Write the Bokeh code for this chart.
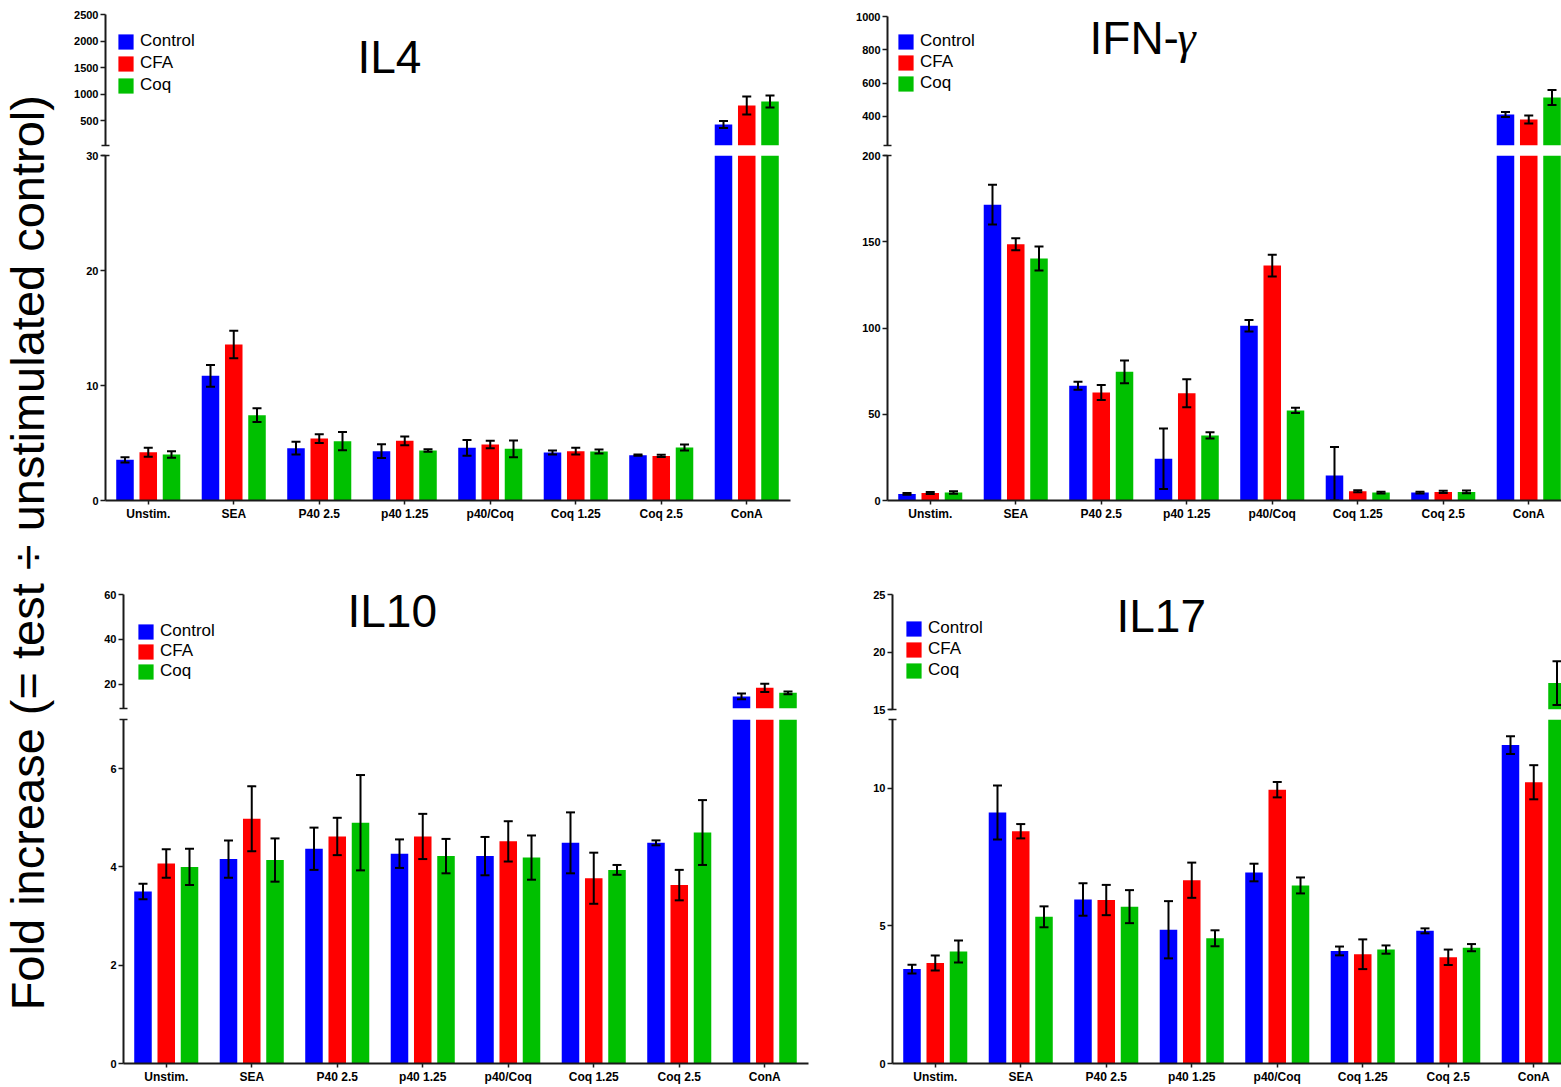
import math
from bokeh.plotting import figure
from bokeh.models import (Range1d, FixedTicker, Label, Legend, LegendItem,
                          ColumnDataSource, CDSView, BooleanFilter)
from bokeh.layouts import row, column
from bokeh.embed import file_html
from bokeh.resources import INLINE

# ---------------- data ----------------
categories = ["Unstim.", "SEA", "P40 2.5", "p40 1.25", "p40/Coq", "Coq 1.25", "Coq 2.5", "ConA"]
series_names = ["Control", "CFA", "Coq"]
series_colors = ["#0000FF", "#FF0000", "#00C000"]

il4_control = [3.54, 10.84, 4.55, 4.29, 4.58, 4.17, 3.94, 426]
il4_control_err = [0.23, 0.95, 0.55, 0.60, 0.68, 0.18, 0.05, 67]
il4_cfa = [4.20, 13.57, 5.39, 5.19, 4.87, 4.29, 3.88, 784]
il4_cfa_err = [0.39, 1.20, 0.38, 0.38, 0.32, 0.30, 0.10, 170]
il4_coq = [4.00, 7.42, 5.16, 4.35, 4.49, 4.26, 4.61, 860]
il4_coq_err = [0.29, 0.60, 0.80, 0.10, 0.72, 0.18, 0.27, 113]

ifn_control = [3.8, 171.5, 66.5, 24.2, 101.3, 14.5, 4.6, 411]
ifn_control_err = [0.5, 11.5, 2.3, 17.5, 3.4, 16.5, 0.5, 15]
ifn_cfa = [4.3, 148.6, 62.6, 62.2, 136.2, 5.4, 5.0, 381]
ifn_cfa_err = [0.6, 3.5, 4.3, 8.1, 6.3, 0.6, 0.6, 24]
ifn_coq = [4.6, 140.3, 74.6, 37.7, 52.2, 4.6, 5.0, 513]
ifn_coq_err = [0.7, 7.0, 6.6, 1.8, 1.5, 0.5, 0.8, 45]

il10_control = [3.50, 4.16, 4.37, 4.27, 4.22, 4.49, 4.49, 14.7]
il10_control_err = [0.16, 0.38, 0.43, 0.29, 0.39, 0.62, 0.05, 1.3]
il10_cfa = [4.07, 4.98, 4.62, 4.62, 4.52, 3.77, 3.63, 18.5]
il10_cfa_err = [0.29, 0.66, 0.38, 0.46, 0.41, 0.52, 0.31, 1.8]
il10_coq = [4.00, 4.14, 4.90, 4.22, 4.19, 3.94, 4.70, 16.3]
il10_coq_err = [0.37, 0.44, 0.97, 0.35, 0.45, 0.10, 0.66, 0.6]

il17_control = [3.43, 9.12, 5.96, 4.86, 6.94, 4.09, 4.82, 11.57]
il17_control_err = [0.16, 0.98, 0.59, 1.04, 0.32, 0.16, 0.09, 0.32]
il17_cfa = [3.65, 8.44, 5.94, 6.66, 9.95, 3.97, 3.86, 10.22]
il17_cfa_err = [0.27, 0.26, 0.55, 0.64, 0.28, 0.54, 0.28, 0.62]
il17_coq = [4.07, 5.33, 5.70, 4.55, 6.47, 4.14, 4.21, 17.3]
il17_coq_err = [0.40, 0.38, 0.60, 0.29, 0.29, 0.15, 0.13, 1.9]

y_label = "Fold increase (= test \u00f7 unstimulated control)"

# ---------------- style ----------------
FONT = "Liberation Sans"
AXIS_COLOR = "#1a1a1a"
BAR_W = 0.205
OFFSETS = [-0.272, 0.0, 0.272]
UNIT = 85.5  # px per category


def style_yaxis(ax, ticks, cap):
    ax.ticker = FixedTicker(ticks=ticks, minor_ticks=[cap])
    ax.major_label_overrides = {t: str(t) for t in ticks}
    ax.axis_line_color = AXIS_COLOR
    ax.axis_line_width = 2
    ax.major_tick_line_color = AXIS_COLOR
    ax.major_tick_line_width = 1.5
    ax.major_tick_out = 5
    ax.major_tick_in = 0
    ax.minor_tick_line_color = AXIS_COLOR
    ax.minor_tick_line_width = 1.5
    ax.minor_tick_out = 4
    ax.minor_tick_in = 4
    ax.major_label_text_font = FONT
    ax.major_label_text_font_size = "11px"
    ax.major_label_text_font_style = "bold"
    ax.major_label_text_color = "black"
    ax.major_label_standoff = 2


def style_xaxis(ax):
    ax.ticker = FixedTicker(ticks=list(range(len(categories))))
    ax.major_label_overrides = {i: c for i, c in enumerate(categories)}
    ax.axis_line_color = AXIS_COLOR
    ax.axis_line_width = 2
    ax.major_tick_line_color = AXIS_COLOR
    ax.major_tick_line_width = 1.5
    ax.major_tick_out = 4
    ax.major_tick_in = 0
    ax.minor_tick_out = 0
    ax.minor_tick_in = 0
    ax.major_label_text_font = FONT
    ax.major_label_text_font_size = "12px"
    ax.major_label_text_font_style = "bold"
    ax.major_label_text_color = "black"
    ax.major_label_standoff = 2


def seg_fig(width, height, left, right, top, bottom, y0, y1, ticks, cap, with_x):
    x_end = -0.5 + (width - left - right) / UNIT
    p = figure(width=width, height=height,
               x_range=Range1d(-0.5, x_end), y_range=Range1d(y0, y1),
               output_backend="svg", toolbar_location=None,
               min_border_left=left, min_border_right=right,
               min_border_top=top, min_border_bottom=bottom,
               x_axis_location="below" if with_x else None)
    p.outline_line_color = None
    p.grid.visible = False
    p.background_fill_color = "white"
    p.border_fill_color = "white"
    style_yaxis(p.yaxis[0], ticks, cap)
    if with_x:
        style_xaxis(p.xaxis[0])
    return p


def add_bars(p, vals_list, errs_list, y0, y1, is_top):
    rends = []
    for vals, errs, color, off in zip(vals_list, errs_list, series_colors, OFFSETS):
        if is_top:
            # in the upper axis segment bars start at the break
            tops = [max(v, y0) for v in vals]
            err_mask = [v > y0 for v in vals]
        else:
            tops = list(vals)
            err_mask = [v <= y1 for v in vals]
        src = ColumnDataSource(dict(
            x=[i + off for i in range(len(vals))],
            top=tops,
            up=[v + e for v, e in zip(vals, errs)],
            lo=[max(v - e, 0) for v, e in zip(vals, errs)],
        ))
        err_view = CDSView(filter=BooleanFilter(err_mask))
        r = p.vbar(x="x", top="top", bottom=y0, width=BAR_W, source=src,
                   fill_color=color, line_color=None)
        rends.append(r)
        p.segment(x0="x", y0="lo", x1="x", y1="up", source=src, view=err_view,
                  line_color="black", line_width=2)
        p.scatter(x="x", y="up", marker="dash", size=9, line_width=2,
                  line_color="black", source=src, view=err_view)
        p.scatter(x="x", y="lo", marker="dash", size=9, line_width=2,
                  line_color="black", source=src, view=err_view)
    return rends


def make_panel(width, spec_top, spec_bot, vals, errs, legend_pos, spacing, titles):
    pt = seg_fig(width, *spec_top, with_x=False)
    pb = seg_fig(width, *spec_bot, with_x=True)
    rends = add_bars(pt, vals, errs, spec_top[5], spec_top[6], True)
    add_bars(pb, vals, errs, spec_bot[5], spec_bot[6], False)
    items = [LegendItem(label=n, renderers=[r]) for n, r in zip(series_names, rends)]
    leg = Legend(items=items, location=legend_pos, orientation="vertical",
                 border_line_color=None, background_fill_alpha=0,
                 padding=0, margin=0, spacing=spacing,
                 glyph_width=19, glyph_height=19, label_height=19,
                 label_standoff=5, label_text_font=FONT,
                 label_text_font_size="17px", label_text_color="black")
    pt.add_layout(leg)
    # title positions: pixels relative to the top-left of the top figure's frame
    height, left, right, top, bottom, y0, y1 = spec_top[:7]
    frame_h = height - top - bottom
    for text, fx, fy, font, style in titles:
        dx = -0.5 + fx / UNIT
        dy = y1 - fy * (y1 - y0) / frame_h
        pt.add_layout(Label(x=dx, y=dy, text=text, text_font=font,
                            text_font_style=style, text_font_size="46px",
                            text_color="black", text_align="left",
                            text_baseline="middle"))
    return column(pt, pb, spacing=0)


LABEL_W = 70
WL = 770
WR = 721

il4 = make_panel(
    WL,
    (148, 35, 50, 14, 3, 30, 2500, [500, 1000, 1500, 2000, 2500], 30),
    (392, 35, 50, 7, 40, 0, 30, [0, 10, 20, 30], 30),
    [il4_control, il4_cfa, il4_coq], [il4_control_err, il4_cfa_err, il4_coq_err],
    (11, 50), 2,
    [("IL4", 357 - 105, 56 - 14, FONT, "normal")])

ifn = make_panel(
    WR,
    (148, 47, 0, 16, 3, 225, 1000, [400, 600, 800, 1000], 225),
    (392, 47, 0, 7, 40, 0, 200, [0, 50, 100, 150, 200], 200),
    [ifn_control, ifn_cfa, ifn_coq], [ifn_control_err, ifn_cfa_err, ifn_coq_err],
    (9, 52), 1,
    [("IFN-", 1089 - 887, 37 - 16, FONT, "normal"),
     ("\u03b3", 1177 - 887, 37 - 16, "Liberation Serif", "italic")])

il10 = make_panel(
    WL,
    (172, 53, 32, 54, 4, 9.33, 60, [20, 40, 60], 9.33),
    (375, 53, 32, 7, 24, 0, 7, [0, 2, 4, 6], 7),
    [il10_control, il10_cfa, il10_coq], [il10_control_err, il10_cfa_err, il10_coq_err],
    (13, 27), 0,
    [("IL10", 347 - 123, 610 - 594, FONT, "normal")])

il17 = make_panel(
    WR,
    (177, 52, 0, 54, 8, 15, 25, [15, 20, 25], 15),
    (370, 52, 0, 2, 24, 0, 12.5, [0, 5, 10], 12.5),
    [il17_control, il17_cfa, il17_coq], [il17_control_err, il17_cfa_err, il17_coq_err],
    (12, 29), 1,
    [("IL17", 1116 - 892, 615 - 594, FONT, "normal")])

# y-axis label column
lab = figure(width=LABEL_W, height=1087, x_range=Range1d(0, 1), y_range=Range1d(0, 1),
             output_backend="svg", toolbar_location=None,
             min_border_left=0, min_border_right=0, min_border_top=0, min_border_bottom=0,
             x_axis_location=None, y_axis_location=None)
lab.outline_line_color = None
lab.grid.visible = False
lab.add_layout(Label(x=27 / LABEL_W, y=0.492, text=y_label, angle=math.pi / 2,
                     text_align="center", text_baseline="middle",
                     text_font=FONT, text_font_size="47px", text_color="black"))

left_col = column(il4, il10, spacing=0)
right_col = column(ifn, il17, spacing=0)
p = row(lab, left_col, right_col, spacing=0)

open("out.html", "w").write(file_html(p, INLINE))
